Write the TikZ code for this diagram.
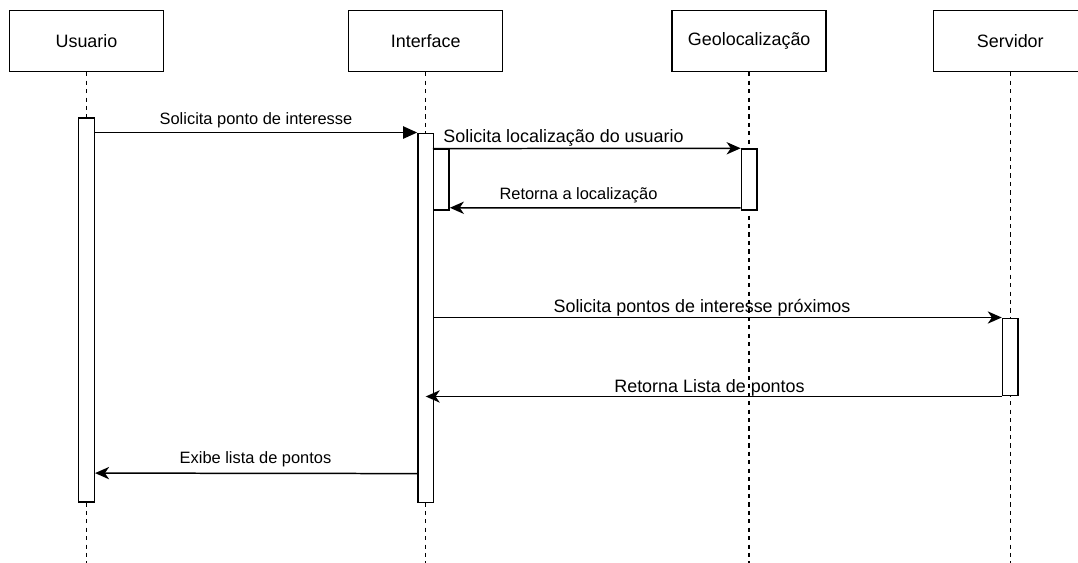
\documentclass[tikz,border=0pt]{standalone}
\usepackage{fontspec}
\setmainfont{Liberation Sans}
\usetikzlibrary{arrows.meta,positioning}

\begin{document}
\begin{tikzpicture}[x=0.02cm,y=-0.02cm,
  actor/.style={draw,line width=0.85pt,fill=white,minimum width=3.08cm,minimum height=1.22cm,inner sep=0pt,font=\fontsize{10.2}{12}\selectfont},
  bar/.style={draw,line width=0.85pt,fill=white,minimum width=0.312cm,inner sep=0pt},
  life/.style={line width=0.85pt,dash pattern=on 2.4pt off 2.4pt},
  call/.style={line width=0.85pt,-{Triangle[length=8pt,width=7pt]}},
  msg/.style={line width=0.85pt,-{Stealth[length=8pt,width=7pt,inset=2.4pt]}},
  big/.style={anchor=base,inner sep=0pt,font=\fontsize{10.2}{12}\selectfont},
  small/.style={anchor=base,inner sep=0pt,font=\fontsize{9.35}{11}\selectfont}
]
\useasboundingbox (0,0) rectangle (1078,563);
\clip (0,0) rectangle (1078,563);
\coordinate (bottom) at (0,563);

% participantes
\node[actor] (usr) at (86.5,41) {Usuario};
\node[actor] (ifc) at (425.7,41) {Interface};
\node[actor] (geo) at (749.2,41) {Geolocalização};
\node[actor] (srv) at (1010.3,41) {Servidor};

\draw[life] (usr.south) -- (usr.south |- bottom);
\draw[life] (ifc.south) -- (ifc.south |- bottom);
\draw[life] (geo.south) -- (geo.south |- bottom);
\draw[life] (srv.south) -- (srv.south |- bottom);

% ativacoes
\node[bar,minimum height=7.69cm] (usrbar) at (86.5,310) {};
\node[bar,minimum height=7.39cm] (ifcbar) at (425.7,318) {};
\node[bar,minimum height=1.21cm] (ifcsub) at (441.3,179.6) {};
\node[bar,minimum height=1.22cm] (geobar) at (749.2,179.5) {};
\node[bar,minimum height=1.55cm] (srvbar) at (1010.3,357) {};

% mensagens
\draw[call] (usrbar.east |- ifcbar.north west) -- (ifcbar.north west);
\node[small] (m1) at (256,125) {Solicita ponto de interesse};

\draw[msg] (ifcsub.north west) -- (geobar.north west);
\node[big] (m2) at (563.5,143) {Solicita localização do usuario};

\draw[msg] ([yshift=1.6pt]geobar.south west) -- ([yshift=1.6pt]ifcsub.south east);
\node[small] (m3) at (578.5,199.5) {Retorna a localização};

\draw[msg] (ifcbar.east |- srvbar.north) -- (srvbar.north west);
\node[big] (m4) at (702,313) {Solicita pontos de interesse próximos};

\draw[msg] (srvbar.south west) -- (ifcbar.center |- srvbar.south west);
\node[big] (m5) at (709.5,393) {Retorna Lista de pontos};

\draw[msg] ([yshift=17pt]ifcbar.south west) -- ([yshift=17pt]usrbar.south east);
\node[small] (m6) at (255.5,463.3) {Exibe lista de pontos};

\end{tikzpicture}
\end{document}
